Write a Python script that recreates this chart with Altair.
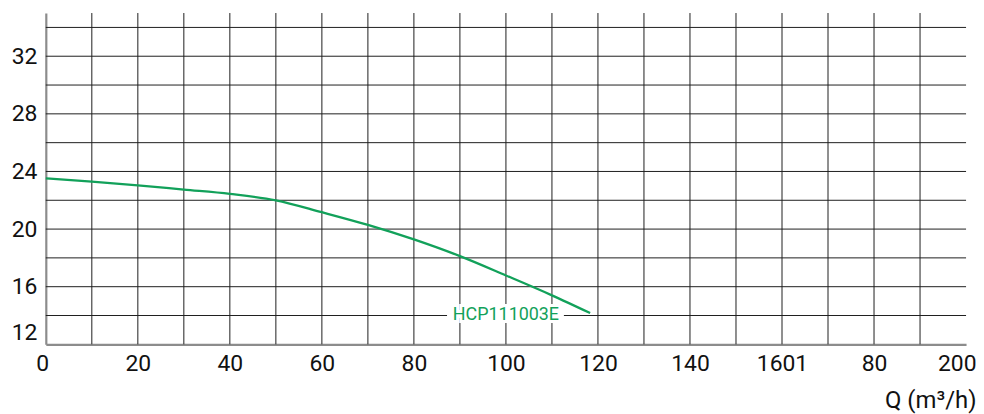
import altair as alt
import pandas as pd

# ---- data ----
flow = [0, 10, 20, 30, 40, 50, 60, 70, 80, 90, 100, 110, 118.3]
head = [23.52, 23.30, 23.04, 22.74, 22.44, 22.0, 21.17, 20.29, 19.28, 18.12, 16.78, 15.4, 14.17]
curve_name = "HCP111003E"
label_flow = [100]
label_head = [14]
label_box_flow = [87.2, 112.6]
label_box_head = [13.82, 14.18]

x_grid_values = list(range(10, 200, 10))
x_tick_values = [0, 20, 40, 60, 80, 100, 120, 140, 160, 180, 200]
x_tick_labels = ["0", "20", "40", "60", "80", "100", "120", "140", "1601", "80", "200"]
y_grid_values = list(range(14, 35, 2))
y_tick_values = [12, 16, 20, 24, 28, 32]
y_tick_labels = ["12", "16", "20", "24", "28", "32"]
x_title = "Q (m³/h)"

GREEN = "#12a15a"
GRID = "#1e1e1e"
FONT = "Roboto"


def label_expr(values, labels):
    parts = [f"datum.value == {v} ? '{t}'" for v, t in zip(values, labels)]
    return " : ".join(parts) + " : ''"


curve_df = pd.DataFrame({"Q": flow, "H": head})
label_df = pd.DataFrame({"Q": label_flow, "H": label_head, "name": [curve_name]})
box_df = pd.DataFrame({
    "Q": [label_box_flow[0]], "Q2": [label_box_flow[1]],
    "H": [label_box_head[0]], "H2": [label_box_head[1]],
})
xgrid_df = pd.DataFrame({"Q": x_grid_values})
ygrid_df = pd.DataFrame({"H": y_grid_values})

x_scale = alt.Scale(domain=[0, 200], nice=False, zero=False)
y_scale = alt.Scale(domain=[12, 35], nice=False, zero=False)

x_axis = alt.Axis(
    values=x_tick_values,
    labelExpr=label_expr(x_tick_values, x_tick_labels),
    grid=False,
    ticks=False,
    domainColor="#8c8c8c",
    domainWidth=2.2,
    labelFont=FONT,
    labelFontSize=23,
    labelColor="#111111",
    labelPadding=8,
    labelFlush=True,
    labelFlushOffset=10,
    labelOverlap=False,
    title=x_title,
    titleFont=FONT,
    titleFontSize=24,
    titleFontWeight="normal",
    titleColor="#111111",
    titleAlign="right",
    titleAnchor="end",
    titleBaseline="alphabetic",
    titleX=935,
    titleY=64,
)

y_axis = alt.Axis(
    values=y_tick_values,
    labelExpr=label_expr(y_tick_values, y_tick_labels),
    grid=False,
    ticks=False,
    domainColor="#8c8c8c",
    domainWidth=2.2,
    labelFont=FONT,
    labelFontSize=23,
    labelColor="#111111",
    labelPadding=9,
    labelFlush=True,
    labelFlushOffset=0,
    labelOverlap=False,
    title=None,
)

vgrid = alt.Chart(xgrid_df).mark_rule(color=GRID, strokeWidth=1).encode(
    x=alt.X("Q:Q", scale=x_scale, axis=x_axis),
)

hgrid = alt.Chart(ygrid_df).mark_rule(color=GRID, strokeWidth=1).encode(
    y=alt.Y("H:Q", scale=y_scale, axis=y_axis),
)

line = alt.Chart(curve_df).mark_line(
    color=GREEN, strokeWidth=2.3, interpolate="monotone"
).encode(
    x=alt.X("Q:Q", scale=x_scale),
    y=alt.Y("H:Q", scale=y_scale),
)

box = alt.Chart(box_df).mark_rect(color="white").encode(
    x=alt.X("Q:Q", scale=x_scale),
    x2="Q2:Q",
    y=alt.Y("H:Q", scale=y_scale),
    y2="H2:Q",
)

halo = alt.Chart(label_df).mark_text(
    font=FONT, fontSize=18, color="white",
    stroke="white", strokeWidth=6, align="center", baseline="middle",
).encode(
    x=alt.X("Q:Q", scale=x_scale),
    y=alt.Y("H:Q", scale=y_scale),
    text="name:N",
)

label = alt.Chart(label_df).mark_text(
    font=FONT, fontSize=18, color=GREEN,
    align="center", baseline="middle",
).encode(
    x=alt.X("Q:Q", scale=x_scale),
    y=alt.Y("H:Q", scale=y_scale),
    text="name:N",
)

chart = alt.layer(vgrid, hgrid, line, box, halo, label).properties(
    width=925,
    height=333,
    autosize=alt.AutoSizeParams(type="none"),
    padding={"left": 38, "top": 4, "right": 10, "bottom": 69},
    background="white",
).configure_view(stroke=None)

chart.save("out.html", embed_options={"renderer": "svg", "actions": False})
